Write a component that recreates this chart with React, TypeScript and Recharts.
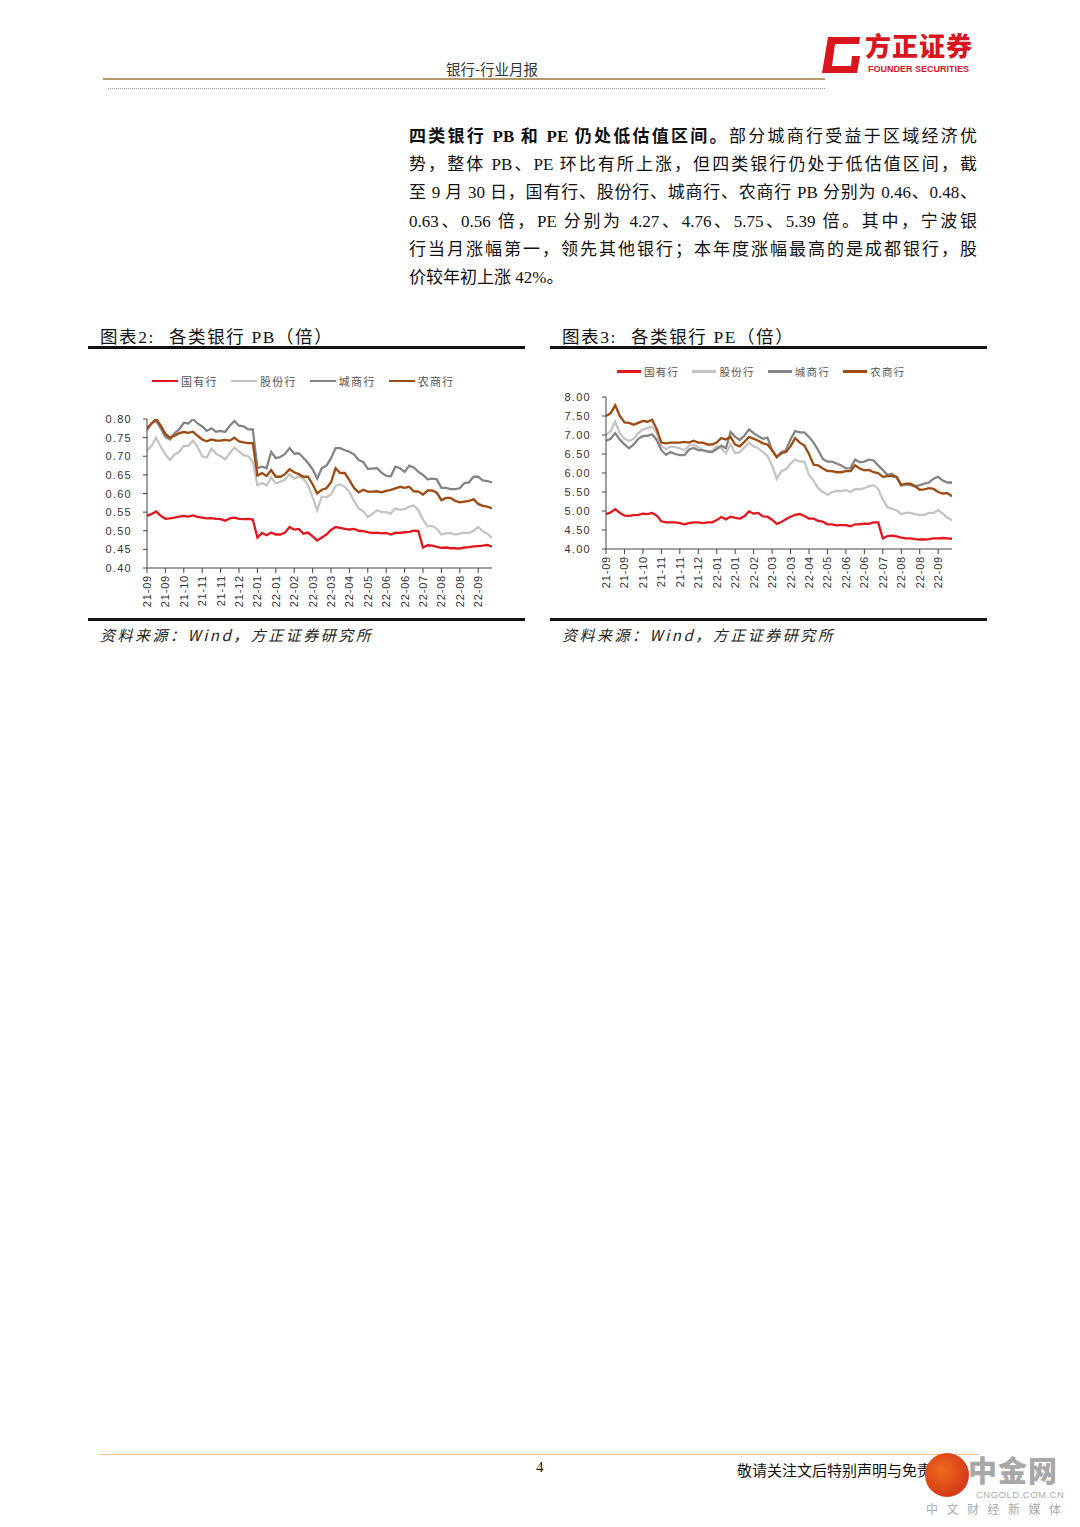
import React from 'react';
import { LineChart, Line, XAxis, YAxis } from 'recharts';

// ---------- data ----------
const xTickLabels = ['21-09', '21-09', '21-10', '21-11', '21-11', '21-12', '22-01', '22-01', '22-02', '22-03', '22-03', '22-04', '22-05', '22-06', '22-06', '22-07', '22-08', '22-08', '22-09'];
const POINTS_PER_TICK = 4;

const seriesNames = ['国有行', '股份行', '城商行', '农商行'];
const seriesKeys = ['guoyou', 'gufen', 'chengshang', 'nongshang'];
const seriesColors = ['#e3161e', '#c4c4c4', '#848484', '#9e4a12'];
const drawOrder = [1, 2, 3, 0];

const pbGuoyou = [0.54, 0.545, 0.552, 0.54, 0.532, 0.533, 0.535, 0.538, 0.54, 0.538, 0.541, 0.537, 0.535, 0.533, 0.534, 0.532, 0.531, 0.527, 0.533, 0.535, 0.532, 0.531, 0.532, 0.53, 0.482, 0.494, 0.488, 0.495, 0.49, 0.49, 0.495, 0.51, 0.503, 0.505, 0.492, 0.495, 0.485, 0.474, 0.482, 0.49, 0.502, 0.51, 0.508, 0.505, 0.503, 0.505, 0.5, 0.499, 0.496, 0.494, 0.495, 0.493, 0.494, 0.49, 0.495, 0.494, 0.496, 0.497, 0.5, 0.499, 0.455, 0.461, 0.46, 0.457, 0.454, 0.455, 0.453, 0.453, 0.452, 0.455, 0.456, 0.458, 0.459, 0.46, 0.462, 0.457];
const pbGufen = [0.715, 0.728, 0.75, 0.725, 0.705, 0.69, 0.705, 0.712, 0.728, 0.728, 0.742, 0.725, 0.70, 0.697, 0.72, 0.707, 0.70, 0.692, 0.708, 0.723, 0.713, 0.703, 0.70, 0.685, 0.622, 0.628, 0.622, 0.643, 0.627, 0.632, 0.637, 0.652, 0.64, 0.646, 0.64, 0.622, 0.59, 0.555, 0.592, 0.59, 0.598, 0.62, 0.625, 0.618, 0.605, 0.58, 0.56, 0.552, 0.537, 0.545, 0.555, 0.55, 0.55, 0.546, 0.56, 0.556, 0.558, 0.565, 0.568, 0.555, 0.53, 0.512, 0.513, 0.505, 0.49, 0.493, 0.494, 0.49, 0.492, 0.495, 0.494, 0.5, 0.51, 0.498, 0.492, 0.48];
const pbChengshang = [0.77, 0.788, 0.795, 0.775, 0.752, 0.745, 0.762, 0.772, 0.79, 0.788, 0.8, 0.788, 0.78, 0.768, 0.775, 0.766, 0.768, 0.765, 0.782, 0.795, 0.782, 0.78, 0.772, 0.772, 0.668, 0.672, 0.668, 0.712, 0.695, 0.698, 0.706, 0.722, 0.707, 0.708, 0.696, 0.682, 0.665, 0.64, 0.668, 0.675, 0.695, 0.722, 0.722, 0.716, 0.712, 0.705, 0.69, 0.685, 0.666, 0.667, 0.668, 0.656, 0.647, 0.646, 0.672, 0.668, 0.658, 0.675, 0.67, 0.658, 0.65, 0.638, 0.64, 0.638, 0.615, 0.615, 0.612, 0.612, 0.614, 0.628, 0.63, 0.645, 0.645, 0.635, 0.633, 0.63];
const pbNongshang = [0.775, 0.788, 0.80, 0.782, 0.76, 0.75, 0.755, 0.762, 0.765, 0.763, 0.766, 0.755, 0.745, 0.74, 0.745, 0.742, 0.742, 0.744, 0.742, 0.75, 0.74, 0.737, 0.735, 0.735, 0.648, 0.655, 0.647, 0.663, 0.645, 0.645, 0.652, 0.665, 0.657, 0.652, 0.645, 0.645, 0.625, 0.6, 0.61, 0.614, 0.63, 0.668, 0.655, 0.655, 0.636, 0.615, 0.603, 0.61, 0.605, 0.605, 0.606, 0.603, 0.607, 0.61, 0.614, 0.618, 0.615, 0.618, 0.606, 0.605, 0.597, 0.608, 0.608, 0.602, 0.582, 0.588, 0.588, 0.58, 0.576, 0.578, 0.58, 0.585, 0.572, 0.567, 0.565, 0.56];

const peGuoyou = [4.92, 4.96, 5.05, 4.95, 4.88, 4.87, 4.89, 4.9, 4.93, 4.92, 4.95, 4.88, 4.73, 4.7, 4.7, 4.7, 4.68, 4.65, 4.68, 4.7, 4.7, 4.68, 4.7, 4.7, 4.76, 4.84, 4.78, 4.85, 4.82, 4.8, 4.86, 4.99, 4.93, 4.95, 4.86, 4.85, 4.77, 4.66, 4.71, 4.78, 4.85, 4.9, 4.92, 4.87, 4.8, 4.8, 4.74, 4.72, 4.65, 4.65, 4.62, 4.63, 4.63, 4.6, 4.65, 4.65, 4.67, 4.66, 4.7, 4.7, 4.28, 4.34, 4.35, 4.33, 4.3, 4.28, 4.28, 4.26, 4.25, 4.25, 4.26, 4.28, 4.28, 4.29, 4.28, 4.27];
const peGufen = [7.0, 7.1, 7.35, 7.05, 6.9, 6.85, 6.9, 7.05, 7.15, 7.18, 7.22, 7.05, 6.72, 6.62, 6.7, 6.68, 6.65, 6.6, 6.72, 6.75, 6.68, 6.6, 6.58, 6.58, 6.7, 6.65, 6.52, 6.75, 6.52, 6.55, 6.67, 6.8, 6.7, 6.65, 6.55, 6.45, 6.2, 5.85, 6.05, 6.1, 6.25, 6.35, 6.3, 6.3, 5.95, 5.8, 5.6, 5.5, 5.43, 5.5, 5.53, 5.52, 5.55, 5.5, 5.58, 5.57, 5.6, 5.65, 5.68, 5.58, 5.3, 5.1, 5.06, 5.02, 4.92, 4.95, 4.95, 4.92, 4.9, 4.9, 4.95, 4.95, 5.02, 4.93, 4.82, 4.76];
const peChengshang = [6.85, 6.9, 7.05, 6.88, 6.75, 6.65, 6.75, 6.9, 6.97, 6.98, 7.02, 6.87, 6.6, 6.48, 6.55, 6.5, 6.47, 6.47, 6.62, 6.66, 6.6, 6.6, 6.56, 6.55, 6.63, 6.72, 6.65, 7.08, 6.95, 6.87, 6.98, 7.15, 7.05, 6.97, 6.9, 6.93, 6.6, 6.42, 6.55, 6.6, 6.88, 7.1, 7.07, 7.07, 6.95, 6.8, 6.6, 6.37, 6.3, 6.3, 6.25, 6.2, 6.12, 6.13, 6.35, 6.28, 6.3, 6.35, 6.33, 6.2, 6.08, 5.95, 5.98, 5.88, 5.67, 5.7, 5.68, 5.65, 5.68, 5.72, 5.75, 5.85, 5.9, 5.8, 5.75, 5.75];
const peNongshang = [7.5, 7.57, 7.78, 7.5, 7.33, 7.32, 7.27, 7.32, 7.37, 7.35, 7.4, 7.15, 6.8, 6.78, 6.8, 6.8, 6.8, 6.82, 6.8, 6.85, 6.8, 6.8, 6.75, 6.75, 6.8, 6.92, 6.88, 6.95, 6.75, 6.7, 6.82, 6.95, 6.9, 6.85, 6.78, 6.75, 6.6, 6.42, 6.52, 6.55, 6.7, 6.92, 6.8, 6.72, 6.5, 6.22, 6.2, 6.12, 6.05, 6.05, 6.02, 6.02, 6.05, 6.05, 6.2, 6.12, 6.07, 6.08, 6.02, 6.0, 5.9, 5.92, 5.92, 5.9, 5.68, 5.72, 5.72, 5.65, 5.56, 5.57, 5.6, 5.58, 5.5, 5.46, 5.47, 5.39];

const pbTicks = [0.4, 0.45, 0.5, 0.55, 0.6, 0.65, 0.7, 0.75, 0.8];
const peTicks = [4, 4.5, 5, 5.5, 6, 6.5, 7, 7.5, 8];

const paragraphLines = [
  '势，整体 PB、PE 环比有所上涨，但四类银行仍处于低估值区间，截',
  '至 9 月 30 日，国有行、股份行、城商行、农商行 PB 分别为 0.46、0.48、',
  '0.63、0.56 倍，PE 分别为 4.27、4.76、5.75、5.39 倍。其中，宁波银',
  '行当月涨幅第一，领先其他银行；本年度涨幅最高的是成都银行，股',
];
const paragraphBold = '四类银行 PB 和 PE 仍处低估值区间。';
const paragraphFirstRest = '部分城商行受益于区域经济优';
const paragraphLast = '价较年初上涨 42%。';

// ---------- helpers ----------
const buildRows = (arrs: number[][]) =>
  arrs[0].map((_, i) => {
    const row: any = { i };
    seriesKeys.forEach((k, s) => (row[k] = arrs[s][i]));
    return row;
  });

const pbRows = buildRows([pbGuoyou, pbGufen, pbChengshang, pbNongshang]);
const peRows = buildRows([peGuoyou, peGufen, peChengshang, peNongshang]);
const xTickIdx = xTickLabels.map((_, k) => k * POINTS_PER_TICK);

const serif = '"Liberation Serif", "Noto Sans CJK SC", serif';
const cjk = '"Noto Sans CJK SC", sans-serif';
const axisFont = '"Liberation Sans", "DejaVu Sans", sans-serif';

const XTick = (props: any) => {
  const { x, y, payload } = props;
  const label = xTickLabels[Math.round(payload.value / POINTS_PER_TICK)];
  return (
    <text
      x={x}
      y={y}
      transform={`rotate(-90 ${x} ${y})`}
      textAnchor="end"
      dominantBaseline="central"
      fontSize={11}
      fontFamily={axisFont}
      letterSpacing={0.8}
      fill="#333"
    >
      {label}
    </text>
  );
};

const YTick = (props: any) => {
  const { x, y, payload } = props;
  return (
    <text x={x} y={y} textAnchor="end" dominantBaseline="central" fontSize={11} fontFamily={axisFont} letterSpacing={1.3} fill="#333">
      {Number(payload.value).toFixed(2)}
    </text>
  );
};

function LegendRow({ left, top, lineW, fontSize, gap }: { left: number; top: number; lineW: number; fontSize: number; gap: number }) {
  return (
    <div style={{ position: 'absolute', left, top, display: 'flex', alignItems: 'center', fontFamily: cjk, fontSize, letterSpacing: 1.3, color: '#555', whiteSpace: 'nowrap' }}>
      {seriesNames.map((n, s) => (
        <div key={n} style={{ display: 'flex', alignItems: 'center', marginRight: gap }}>
          <div style={{ width: lineW, height: 2.5, background: seriesColors[s], marginRight: 3 }} />
          <span>{n}</span>
        </div>
      ))}
    </div>
  );
}

function ValChart({ rows, domain, ticks, left, top, height, yW, mTop, mRight }: any) {
  return (
    <div style={{ position: 'absolute', left, top }}>
      <LineChart width={437} height={height} data={rows} margin={{ top: mTop, right: mRight, bottom: 2, left: 0 }}>
        <XAxis
          dataKey="i"
          type="number"
          domain={[0, rows.length - 1]}
          ticks={xTickIdx}
          interval={0}
          tick={<XTick />}
          tickSize={5}
          tickMargin={2}
          height={45}
          stroke="#444"
          allowDataOverflow
        />
        <YAxis
          domain={domain}
          ticks={ticks}
          interval={0}
          tick={<YTick />}
          tickSize={4}
          tickMargin={11}
          width={yW}
          stroke="#444"
          allowDataOverflow
        />
        {drawOrder.map((s) => (
          <Line
            key={seriesKeys[s]}
            dataKey={seriesKeys[s]}
            stroke={seriesColors[s]}
            strokeWidth={2.3}
            dot={false}
            type="linear"
            isAnimationActive={false}
          />
        ))}
      </LineChart>
    </div>
  );
}

function Panel({ left, num, name }: { left: number; num: string; name: string }) {
  return (
    <>
      <div style={{ position: 'absolute', left: left + 12, top: 323, fontFamily: serif, fontSize: 17.5, letterSpacing: 1.6, color: '#111', whiteSpace: 'pre' }}>
        {`图表${num}:`}
        <span style={{ marginLeft: 14 }}>{name}</span>
      </div>
      <div style={{ position: 'absolute', left, top: 346, width: 437, height: 3, background: '#111' }} />
      <div style={{ position: 'absolute', left, top: 618, width: 437, height: 3, background: '#111' }} />
      <div style={{ position: 'absolute', left: left + 12, top: 624, fontFamily: cjk, fontStyle: 'italic', fontSize: 15, letterSpacing: 2.5, color: '#222', whiteSpace: 'nowrap' }}>
        资料来源：Wind，方正证券研究所
      </div>
    </>
  );
}

export default function App() {
  const lineStyle: React.CSSProperties = { width: 568, height: 28.2, lineHeight: '28.2px', textAlign: 'justify', textAlignLast: 'justify' as any, overflow: 'visible' };
  return (
    <div style={{ position: 'absolute', left: 0, top: 0, width: 1080, height: 1527, background: '#fff', overflow: 'hidden' }}>
      {/* header */}
      <div style={{ position: 'absolute', left: 446, top: 58, fontFamily: cjk, fontSize: 14.5, color: '#333', whiteSpace: 'nowrap' }}>银行-行业月报</div>
      <div style={{ position: 'absolute', left: 103, top: 78, width: 722, height: 2, background: '#b49a6a' }} />
      <div style={{ position: 'absolute', left: 108, top: 88, width: 717, height: 0, borderTop: '1px dotted #9a9a9a' }} />
      <svg style={{ position: 'absolute', left: 818, top: 34 }} width={46} height={42}>
        <path d="M10 3 L42 3 L41 10 L17 10 L14 32 L33 32 L34 22 L42 22 L39 39 L4 39 Z" fill="#d9151e" />
      </svg>
      <div style={{ position: 'absolute', left: 865, top: 27, fontFamily: cjk, fontWeight: 900, fontSize: 26, lineHeight: '36px', color: '#d9151e', whiteSpace: 'nowrap', letterSpacing: 1 }}>方正证券</div>
      <div style={{ position: 'absolute', left: 868, top: 64, fontFamily: '"Liberation Sans", sans-serif', fontWeight: 700, fontSize: 9, lineHeight: '11px', color: '#d9151e', whiteSpace: 'nowrap' }}>FOUNDER SECURITIES</div>

      {/* paragraph */}
      <div style={{ position: 'absolute', left: 409, top: 123, fontFamily: serif, fontSize: 17, color: '#111' }}>
        <div style={lineStyle}>
          <b>{paragraphBold}</b>
          {paragraphFirstRest}
        </div>
        {paragraphLines.map((l) => (
          <div key={l} style={lineStyle}>{l}</div>
        ))}
        <div style={{ ...lineStyle, textAlign: 'left', textAlignLast: 'left' as any }}>{paragraphLast}</div>
      </div>

      {/* panels */}
      <Panel left={88} num="2" name="各类银行 PB（倍）" />
      <Panel left={550} num="3" name="各类银行 PE（倍）" />
      <LegendRow left={152} top={373} lineW={26} fontSize={11} gap={13} />
      <LegendRow left={617} top={364} lineW={24} fontSize={10.5} gap={13} />
      <ValChart rows={pbRows} domain={[0.4, 0.8]} ticks={pbTicks} left={88} top={400} height={215} yW={59} mTop={19} mRight={33} />
      <ValChart rows={peRows} domain={[4, 8]} ticks={peTicks} left={550} top={380} height={216} yW={56} mTop={17} mRight={35} />

      {/* footer */}
      <div style={{ position: 'absolute', left: 100, top: 1454, width: 880, height: 1, background: '#f2be8c' }} />
      <div style={{ position: 'absolute', left: 536, top: 1459, fontFamily: serif, fontSize: 15, color: '#111' }}>4</div>
      <div style={{ position: 'absolute', left: 737, top: 1459, fontFamily: cjk, fontSize: 15, color: '#111', whiteSpace: 'nowrap' }}>敬请关注文后特别声明与免责条款</div>
      <div style={{ position: 'absolute', left: 925, top: 1453, width: 44, height: 44, borderRadius: 22, background: 'radial-gradient(circle at 40% 40%, #f06a1a, #c9281a)' }} />
      <div style={{ position: 'absolute', left: 968, top: 1452, fontFamily: cjk, fontWeight: 900, fontSize: 29, lineHeight: '34px', color: '#a8a8a8', whiteSpace: 'nowrap', letterSpacing: 1 }}>中金网</div>
      <div style={{ position: 'absolute', left: 976, top: 1489, fontFamily: '"Liberation Sans", sans-serif', fontSize: 9.5, lineHeight: '11px', color: '#aaa', whiteSpace: 'nowrap', letterSpacing: 0.5 }}>CNGOLD.COM.CN</div>
      <div style={{ position: 'absolute', left: 926, top: 1501, fontFamily: cjk, fontSize: 12, lineHeight: '15px', color: '#aaa', whiteSpace: 'nowrap', letterSpacing: 8.5 }}>中文财经新媒体</div>
    </div>
  );
}
